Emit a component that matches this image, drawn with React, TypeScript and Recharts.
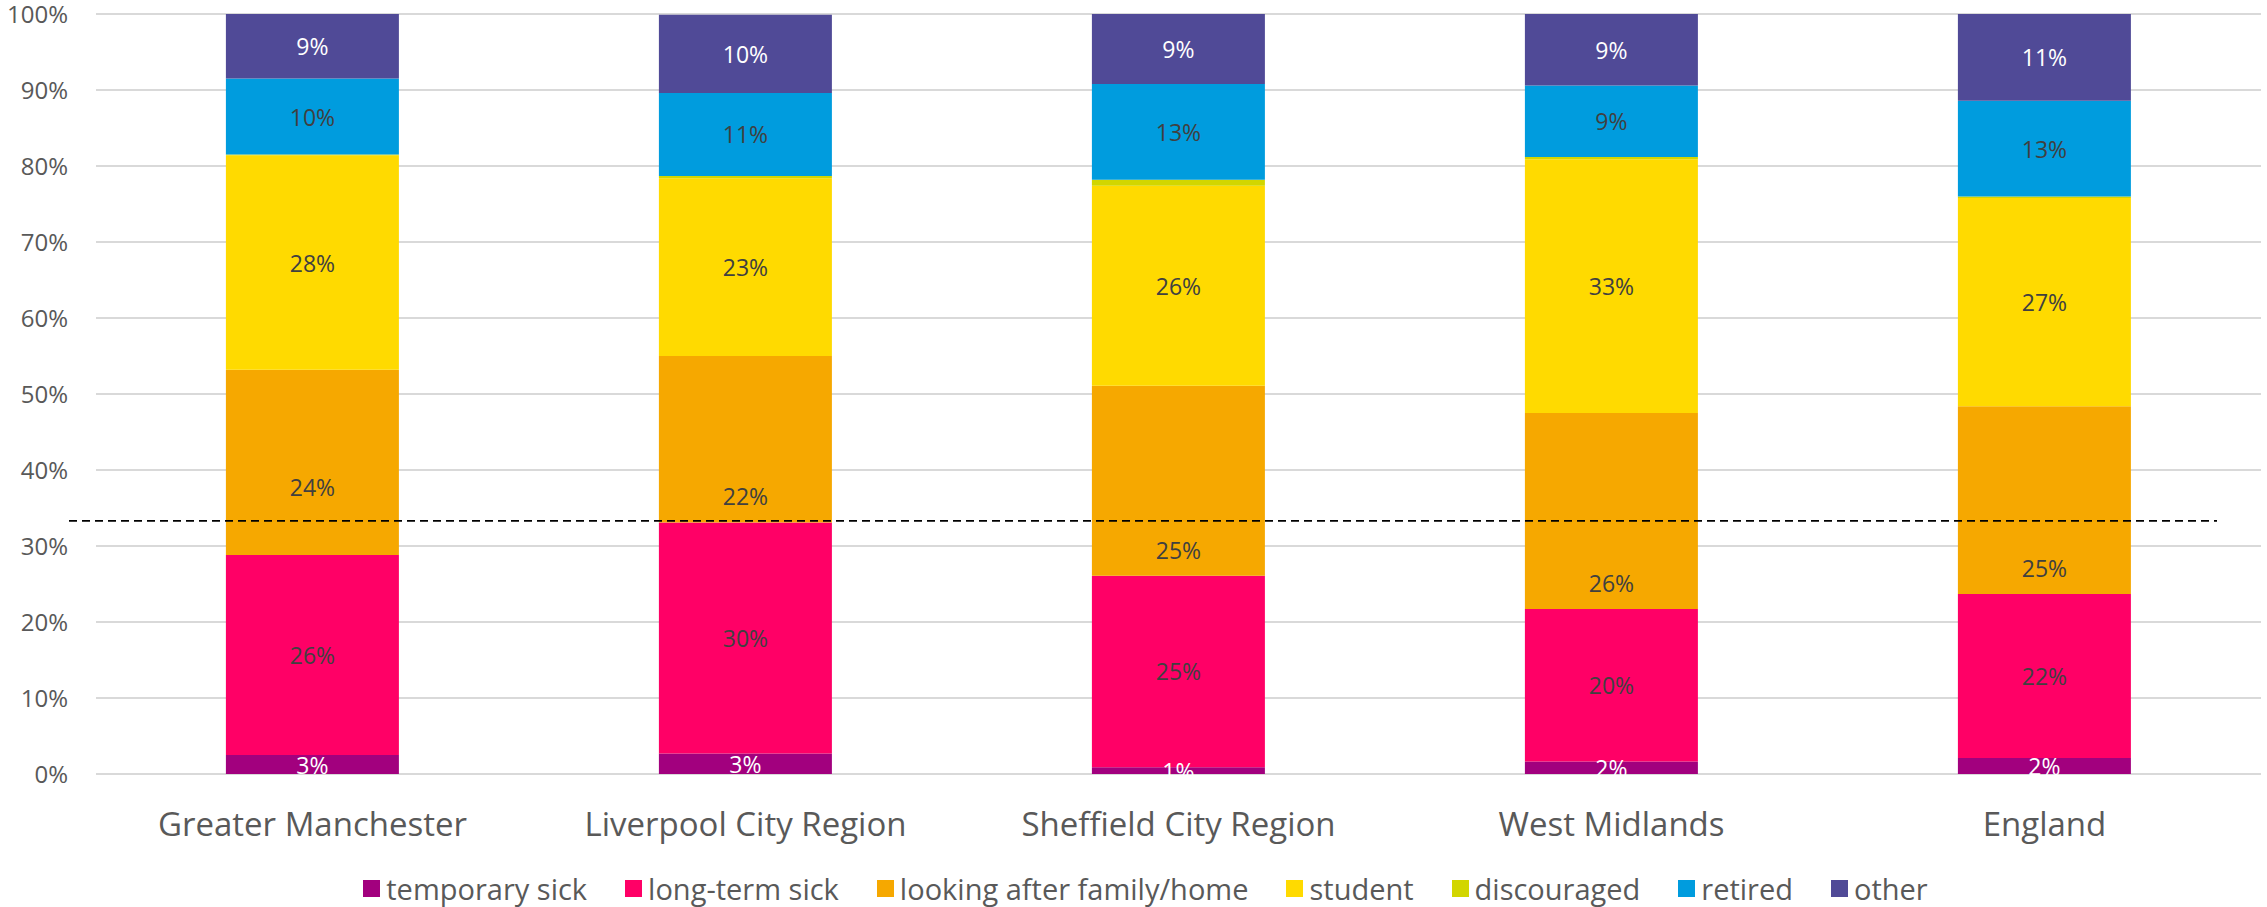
import { BarChart, Bar, XAxis, YAxis, CartesianGrid, Legend, LabelList, ReferenceLine } from 'recharts';

const REGIONS = ['Greater Manchester', 'Liverpool City Region', 'Sheffield City Region', 'West Midlands', 'England'];

const TEMPORARY_SICK = [2.5, 2.7, 0.9, 1.65, 2.1];
const LONG_TERM_SICK = [26.3, 30.4, 25.2, 20.05, 21.6];
const FAMILY_HOME = [24.4, 21.9, 25.0, 25.8, 24.7];
const STUDENT = [28.2, 23.4, 26.3, 33.4, 27.4];
const DISCOURAGED = [0.1, 0.3, 0.8, 0.3, 0.2];
const RETIRED = [10.0, 10.9, 12.6, 9.4, 12.6];
const OTHER = [8.5, 10.3, 9.2, 9.4, 11.4];

const Y_TICKS = [0, 10, 20, 30, 40, 50, 60, 70, 80, 90, 100];
const BENCHMARK = 33.3;

const FONT = '"Open Sans", "Noto Sans", sans-serif';
const DARK = '#404040';
const GREY = '#595959';

const SERIES = [
  { key: 'temp', name: 'temporary sick', fill: '#A2007E', label: '#FFFFFF', place: 'center' },
  { key: 'longterm', name: 'long-term sick', fill: '#FF0066', label: DARK, place: 'center' },
  { key: 'family', name: 'looking after family/home', fill: '#F6A800', label: DARK, place: 'base' },
  { key: 'student', name: 'student', fill: '#FFDA00', label: DARK, place: 'center' },
  { key: 'discouraged', name: 'discouraged', fill: '#D2D600', label: null, place: 'center' },
  { key: 'retired', name: 'retired', fill: '#009CDE', label: DARK, place: 'center' },
  { key: 'other', name: 'other', fill: '#504A97', label: '#FFFFFF', place: 'center' },
];

// small manual shifts of single labels, in px (key -> index -> dy)
const LABEL_NUDGE: Record<string, Record<number, number>> = {
  family: { 0: -42 },
};

const data = REGIONS.map((region, i) => ({
  region,
  temp: TEMPORARY_SICK[i],
  longterm: LONG_TERM_SICK[i],
  family: FAMILY_HOME[i],
  student: STUDENT[i],
  discouraged: DISCOURAGED[i],
  retired: RETIRED[i],
  other: OTHER[i],
}));

function makeLabel(key: string, color: string, place: string) {
  return (props: any) => {
    const { x, y, width, height, value, index } = props;
    const cx = Number(x) + Number(width) / 2;
    let cy = place === 'base' ? Number(y) + Number(height) - 26 : Number(y) + Number(height) / 2;
    const nudge = LABEL_NUDGE[key];
    if (nudge && nudge[index]) cy += nudge[index];
    return (
      <text
        x={cx}
        y={cy}
        fill={color}
        fontSize={23}
        fontFamily={FONT}
        textAnchor="middle"
        dominantBaseline="central"
      >
        {Math.round(Number(value))}%
      </text>
    );
  };
}

function LegendRow() {
  return (
    <div
      style={{
        display: 'flex',
        justifyContent: 'center',
        alignItems: 'center',
        fontFamily: FONT,
        fontSize: 29,
        color: GREY,
        height: 30,
        paddingLeft: 30,
      }}
    >
      {SERIES.map((s, i) => (
        <div
          key={s.key}
          style={{ display: 'flex', alignItems: 'center', marginLeft: i === 0 ? 0 : 38 }}
        >
          <span
            style={{ width: 17, height: 17, background: s.fill, marginRight: 6, display: 'inline-block' }}
          />
          <span>{s.name}</span>
        </div>
      ))}
    </div>
  );
}

function DashedBenchmark(props: any) {
  const { x1, y1, x2, y2 } = props;
  return (
    <line
      x1={x1 - 27}
      y1={y1}
      x2={x2 - 44}
      y2={y2}
      stroke="#000000"
      strokeWidth={1.8}
      strokeDasharray="8 5"
    />
  );
}

export default function App() {
  return (
    <div style={{ position: 'absolute', left: 0, top: 0, width: 2267, height: 907, background: '#fff' }}>
      <BarChart
        width={2267}
        height={907}
        data={data}
        margin={{ top: 14, right: 6, left: 0, bottom: 4 }}
        barCategoryGap="30%"
      >
        <CartesianGrid vertical={false} stroke="#D9D9D9" strokeWidth={2} />
        <XAxis
          dataKey="region"
          axisLine={false}
          tickLine={false}
          tickSize={0}
          tickMargin={39}
          height={99}
          interval={0}
          tick={{ fill: GREY, fontSize: 33, fontFamily: FONT }}
        />
        <YAxis
          domain={[0, 100]}
          ticks={Y_TICKS}
          axisLine={false}
          tickLine={false}
          tickSize={0}
          tickMargin={28}
          width={96}
          interval={0}
          tickFormatter={(v) => `${v}%`}
          tick={{ fill: GREY, fontSize: 24, fontFamily: FONT }}
        />
        <Legend verticalAlign="bottom" height={30} content={() => <LegendRow />} />
        {SERIES.map((s) => (
          <Bar
            key={s.key}
            dataKey={s.key}
            name={s.name}
            stackId="a"
            fill={s.fill}
            isAnimationActive={false}
          >
            {s.label ? (
              <LabelList dataKey={s.key} content={makeLabel(s.key, s.label, s.place)} />
            ) : null}
          </Bar>
        ))}
        <ReferenceLine y={BENCHMARK} ifOverflow="visible" shape={DashedBenchmark} />
      </BarChart>
    </div>
  );
}
